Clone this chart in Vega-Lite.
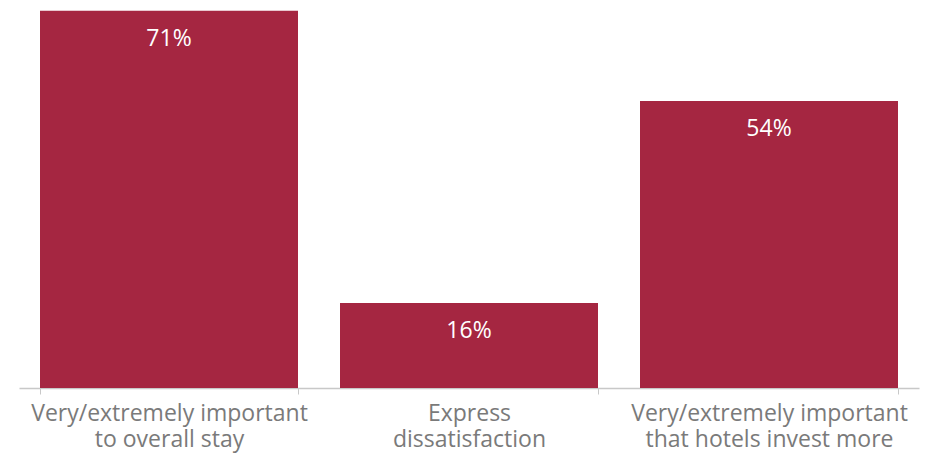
{
  "$schema": "https://vega.github.io/schema/vega-lite/v6.json",
  "autosize": "none",
  "width": 900,
  "height": 388,
  "padding": {"left": 19, "top": 0, "right": 22, "bottom": 68},
  "background": "white",
  "config": {"view": {"stroke": null}},
  "data": {
    "values": [
      {"category": "Very/extremely important\nto overall stay", "value": 71, "label": "71%"},
      {"category": "Express\ndissatisfaction", "value": 16, "label": "16%"},
      {"category": "Very/extremely important\nthat hotels invest more", "value": 54, "label": "54%"}
    ]
  },
  "encoding": {
    "x": {
      "field": "category",
      "type": "nominal",
      "sort": null,
      "scale": {"paddingInner": 0.14, "paddingOuter": 0.07},
      "axis": {
        "title": null,
        "labelAngle": 0,
        "labelExpr": "datum.value ? split(datum.value, '\\n') : ''",
        "labelLimit": 400,
        "labelFont": "Open Sans",
        "labelFontSize": 23,
        "labelColor": "#7a7a7a",
        "labelLineHeight": 26,
        "labelPadding": 8,
        "labelBaseline": "top",
        "tickBand": "extent",
        "tickSize": 6,
        "tickColor": "#c8c8c8",
        "domainColor": "#c8c8c8",
        "domainWidth": 1.5,
        "grid": false
      }
    },
    "y": {
      "field": "value",
      "type": "quantitative",
      "scale": {"domain": [0, 73], "nice": false},
      "axis": null
    }
  },
  "layer": [
    {"mark": {"type": "bar", "color": "#A52641"}},
    {
      "mark": {"type": "text", "color": "white", "font": "Open Sans", "fontSize": 23, "baseline": "middle", "dy": 28},
      "encoding": {"text": {"field": "label"}}
    }
  ]
}
